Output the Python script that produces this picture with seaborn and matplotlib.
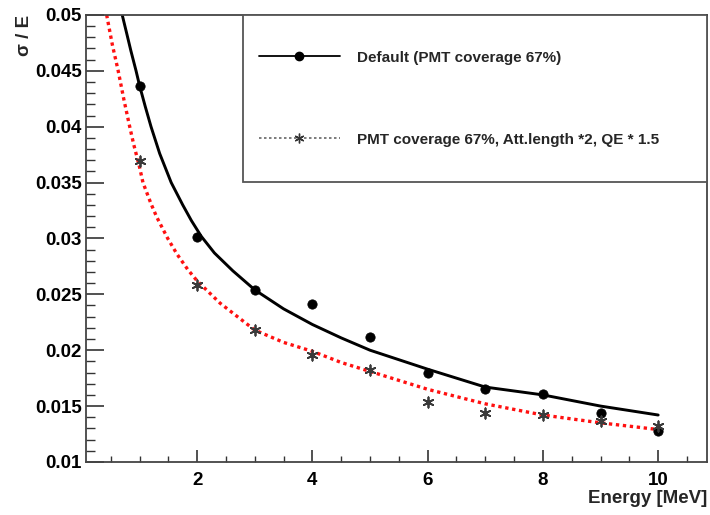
#!/usr/bin/env python
import pandas as pd
import seaborn as sns
from matplotlib import pyplot as plt
import matplotlib.ticker as ticker
from matplotlib.lines import Line2D
from matplotlib.patches import Rectangle

# measured resolution points
energy = [1, 2, 3, 4, 5, 6, 7, 8, 9, 10]
default_res = [0.0436, 0.0301, 0.0254, 0.0241, 0.0212, 0.0180, 0.0165, 0.0161, 0.0144, 0.0128]
improved_res = [0.0369, 0.0258, 0.0218, 0.0196, 0.0182, 0.0154, 0.0144, 0.0142, 0.0137, 0.0132]

# fitted curves
fit_default_e = [0.70, 0.78, 0.85, 0.94, 1.0, 1.1, 1.2, 1.35, 1.55, 1.75, 1.9, 2.07, 2.3, 2.62,
                 3.0, 3.5, 4.0, 4.5, 5.0, 6.0, 7.0, 8.0, 9.0, 10.0]
fit_default = [0.0500, 0.0483, 0.0468, 0.0450, 0.0437, 0.0418, 0.0400, 0.0376, 0.0350, 0.0330,
               0.0316, 0.0302, 0.0287, 0.0271, 0.0254, 0.0237, 0.0223, 0.0211, 0.0200, 0.0183,
               0.0167, 0.0160, 0.0150, 0.0142]
fit_improved_e = [0.43, 0.53, 0.63, 0.73, 0.83, 0.9, 1.0, 1.06, 1.2, 1.3, 1.49, 1.65, 1.84, 2.0,
                  2.4, 3.0, 3.5, 4.0, 4.5, 5.0, 6.0, 7.0, 8.0, 9.0, 10.0]
fit_improved = [0.0500, 0.0473, 0.0450, 0.0424, 0.0400, 0.0384, 0.0364, 0.0350, 0.0331, 0.0319,
                0.0300, 0.0286, 0.0272, 0.0262, 0.0242, 0.0218, 0.0207, 0.0199, 0.0189, 0.0181,
                0.0165, 0.0152, 0.0142, 0.0135, 0.0129]

labels = ["Default (PMT coverage 67%)",
          "PMT coverage 67%, Att.length *2, QE * 1.5"]

points = pd.DataFrame({"Energy": energy, "default": default_res, "improved": improved_res})
fit_a = pd.DataFrame({"Energy": fit_default_e, "res": fit_default})
fit_b = pd.DataFrame({"Energy": fit_improved_e, "res": fit_improved})

sns.set_theme(style="ticks")
plt.rcParams['font.family'] = ['Liberation Sans', 'DejaVu Sans']
plt.rcParams['font.weight'] = 'bold'

fig = plt.figure(figsize=(7.1, 5.15), dpi=100)
ax = fig.add_axes([0.121, 0.103, 0.875, 0.868])

sns.lineplot(data=fit_a, x="Energy", y="res", ax=ax, color="black", lw=2.1,
             sort=False, estimator=None)
sns.lineplot(data=fit_b, x="Energy", y="res", ax=ax, color="#ff1010", lw=2.4,
             linestyle=(0, (1, 1.1)), sort=False, estimator=None)
sns.scatterplot(data=points, x="Energy", y="default", ax=ax, marker="o", s=45,
                color="black", edgecolor="black", zorder=5)
sns.scatterplot(data=points, x="Energy", y="improved", ax=ax, marker=(6, 2, 0), s=55,
                color="#3a3a3a", linewidth=1.3, zorder=5)

ax.set_xlim(0.07, 10.85)
ax.set_ylim(0.01, 0.05)

ax.xaxis.set_major_locator(ticker.MultipleLocator(2))
ax.xaxis.set_minor_locator(ticker.MultipleLocator(0.5))
ax.yaxis.set_major_locator(ticker.MultipleLocator(0.005))
ax.yaxis.set_minor_locator(ticker.MultipleLocator(0.001))
ax.yaxis.set_major_formatter(ticker.FuncFormatter(lambda v, p: f"{v:g}"))
ax.xaxis.set_major_formatter(ticker.FuncFormatter(lambda v, p: f"{v:g}" if v > 0 else ""))

ax.tick_params(axis="both", which="both", direction="in", top=False, right=False,
               colors="#333333", labelcolor="black", labelsize=13.5)
ax.tick_params(axis="y", which="major", length=13, width=1.2, pad=3)
ax.tick_params(axis="y", which="minor", length=6.5, width=1.0)
ax.tick_params(axis="x", which="major", length=9, width=1.2, pad=7)
ax.tick_params(axis="x", which="minor", length=4.5, width=1.0)
for t in ax.get_xticklabels() + ax.get_yticklabels():
    t.set_fontweight("bold")

for s in ax.spines.values():
    s.set_color("#444444")
    s.set_linewidth(1.3)

ax.set_xlabel("Energy [MeV]", loc="right", fontsize=13.5, fontweight="bold")
ax.xaxis.set_label_coords(1.0, -0.062)
ax.set_ylabel("σ / E", loc="top", fontsize=13.5, fontweight="bold")
ax.yaxis.set_label_coords(-0.085, 1.0)

# legend box
ax.add_patch(Rectangle((0.253, 0.626), 0.747, 0.374, transform=ax.transAxes,
                       facecolor="white", edgecolor="#555555", lw=1.3, zorder=6))
handles = [Line2D([], [], color="black", lw=1.3, marker="o", markersize=6),
           Line2D([], [], color="#666666", lw=1.2, linestyle=(0, (1.5, 1.5)),
                  marker=(6, 2, 0), markersize=7, markeredgecolor="#333333")]
leg = ax.legend(handles, labels, loc="center left", bbox_to_anchor=(0.266, 0.813),
                frameon=False, borderpad=0, labelspacing=4.45, handlelength=5.3,
                handletextpad=1.15, numpoints=1, prop={"size": 11, "weight": "bold"})
leg.set_zorder(7)

sns.despine(ax=ax, top=False, right=False)

fig.savefig("out.png", dpi=100)
